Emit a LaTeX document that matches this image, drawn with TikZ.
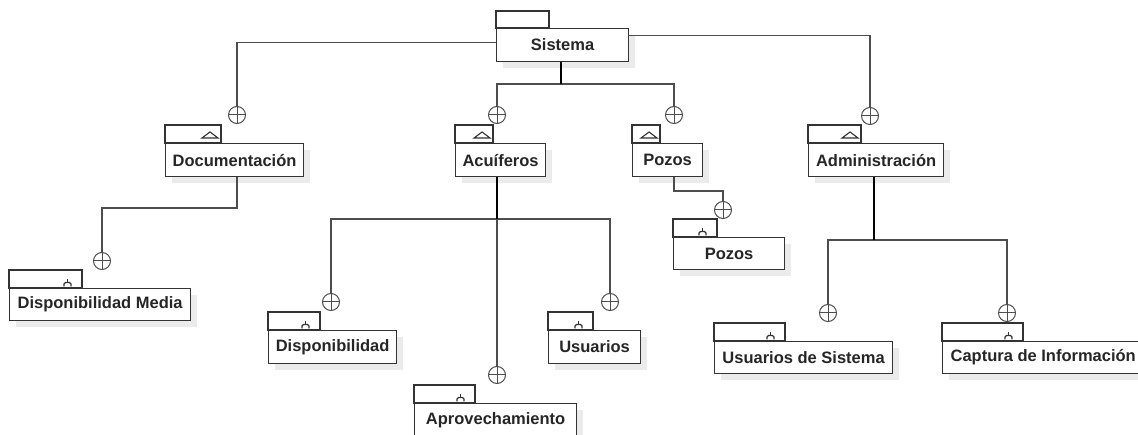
\documentclass[tikz,border=0pt]{standalone}
\usepackage{fontspec}
\setmainfont{Liberation Sans}
\usetikzlibrary{calc,shadows}
\definecolor{pkgdark}{HTML}{333333}
\definecolor{linkgray}{HTML}{4D4D4D}

\tikzset{
  pkgline/.style={draw=pkgdark, line width=1.2pt},
  pkgbody/.style={pkgline, fill=white, anchor=north west, inner sep=0pt, minimum height=33pt,
    font=\bfseries\fontsize{16.5}{19}\selectfont, text=black!85,
    general shadow={fill=black!8, shadow xshift=6pt, shadow yshift=-6pt}},
  iconline/.style={draw=pkgdark, line width=1.1pt},
  nest/.style={circle, draw=linkgray, line width=1pt, minimum size=17pt, inner sep=0pt,
    path picture={\draw[linkgray, line width=1pt] (path picture bounding box.north) -- (path picture bounding box.south)
      (path picture bounding box.west) -- (path picture bounding box.east);}},
  link/.style={draw=linkgray, line width=1.4pt},
  trunk/.style={draw=black, line width=2.2pt}
}

% tab with triangle (node, tab width)
\newcommand{\tabtri}[2]{%
  \draw[pkgline, fill=white] (#1.north west) rectangle ++(#2,-18);
  \draw[iconline] ($(#1.north west)+(#2-19,-5)$) -- ++(16,0) -- ++(-8,-6) -- cycle;
}
% tab with fork (node, tab width)
\newcommand{\tabfork}[2]{%
  \draw[pkgline, fill=white] (#1.north west) rectangle ++(#2,-18);
  \draw[iconline, rounded corners=1.5pt] ($(#1.north west)+(#2-18,-1.5)$) -- ++(0,-4) -- ++(7,0) -- ++(0,4);
  \draw[iconline] ($(#1.north west)+(#2-14.5,-5.5)$) -- ++(0,-3);
}

\begin{document}
\begin{tikzpicture}[x=1pt,y=-1pt]
\useasboundingbox (0,0) rectangle (1138,435);

% packages
\node[pkgbody, minimum width=132pt] (sis) at (496,28) {Sistema};
\node[pkgbody, minimum width=138pt] (doc) at (165,143) {Documentación};
\node[pkgbody, minimum width=90pt] (acu) at (455,143) {Acuíferos};
\node[pkgbody, minimum width=70pt] (poz) at (632,143) {Pozos};
\node[pkgbody, minimum width=135pt] (adm) at (808,143) {Administración};
\node[pkgbody, minimum width=181pt, minimum height=32pt] (dmed) at (9,288) {Disponibilidad Media};
\node[pkgbody, minimum width=128pt] (disp) at (268,330) {Disponibilidad};
\node[pkgbody, minimum width=92pt] (usu) at (548,330) {Usuarios};
\node[pkgbody, minimum width=162pt] (apr) at (414,403) {Aprovechamiento};
\node[pkgbody, minimum width=111pt, minimum height=32pt] (pozc) at (673,237) {Pozos};
\node[pkgbody, minimum width=178pt, minimum height=32pt] (usis) at (714,341) {Usuarios de Sistema};
\node[pkgbody, minimum width=212pt, minimum height=32pt] (cap) at (942,341) {\makebox[196pt][l]{Captura de Información}};

\draw[pkgline, fill=white] (sis.north west) rectangle ++(53,-17);
\tabtri{doc}{56}
\tabtri{acu}{38}
\tabtri{poz}{28}
\tabtri{adm}{53}
\tabfork{dmed}{73}
\tabfork{disp}{52}
\tabfork{usu}{45}
\tabfork{apr}{61}
\tabfork{pozc}{44}
\tabfork{usis}{71}
\tabfork{cap}{81}

% containment circles
\node[nest] (cDoc) at (237,115) {};
\node[nest] (cAcu) at (497,115) {};
\node[nest] (cPoz) at (674,115) {};
\node[nest] (cAdm) at (870,116) {};
\node[nest] (cDmed) at (102,261) {};
\node[nest] (cDisp) at (331,302) {};
\node[nest] (cUsu) at (610,302) {};
\node[nest] (cApr) at (497,375) {};
\node[nest] (cPozc) at (723,210) {};
\node[nest] (cUsis) at (828,313) {};
\node[nest] (cCap) at (1007,313) {};

% links
\draw[link] ([yshift=2.5pt]sis.west) -| (cDoc.north);
\draw[link] ([yshift=9.5pt]sis.east) -| (cAdm.north);
\coordinate (jSis) at ($(sis.south)+(-2,22)$);
\draw[link] (jSis) -| (cAcu.north);
\draw[link] (jSis) -| (cPoz.north);
\draw[trunk] ([xshift=-2pt]sis.south) -- (jSis);

\coordinate (jDoc) at ($(doc.south -| cDoc)+(0,31)$);
\draw[link] (doc.south -| cDoc) -- (jDoc) -| (cDmed.north);

\coordinate (jAcu) at ($(acu.south -| cApr)+(0,42)$);
\draw[link] (jAcu) -| (cDisp.north);
\draw[link] (jAcu) -| (cUsu.north);
\draw[link] (jAcu) -- (cApr.north);
\draw[trunk] (acu.south -| cApr) -- (jAcu);

\coordinate (jPoz) at ($(poz.south -| cPoz)+(0,14)$);
\draw[link] (poz.south -| cPoz) -- (jPoz) -| (cPozc.north);

\coordinate (jAdm) at ($(adm.south)+(-2,63)$);
\draw[link] (jAdm) -| (cUsis.north);
\draw[link] (jAdm) -| (cCap.north);
\draw[trunk] ([xshift=-2pt]adm.south) -- (jAdm);
\end{tikzpicture}
\end{document}
